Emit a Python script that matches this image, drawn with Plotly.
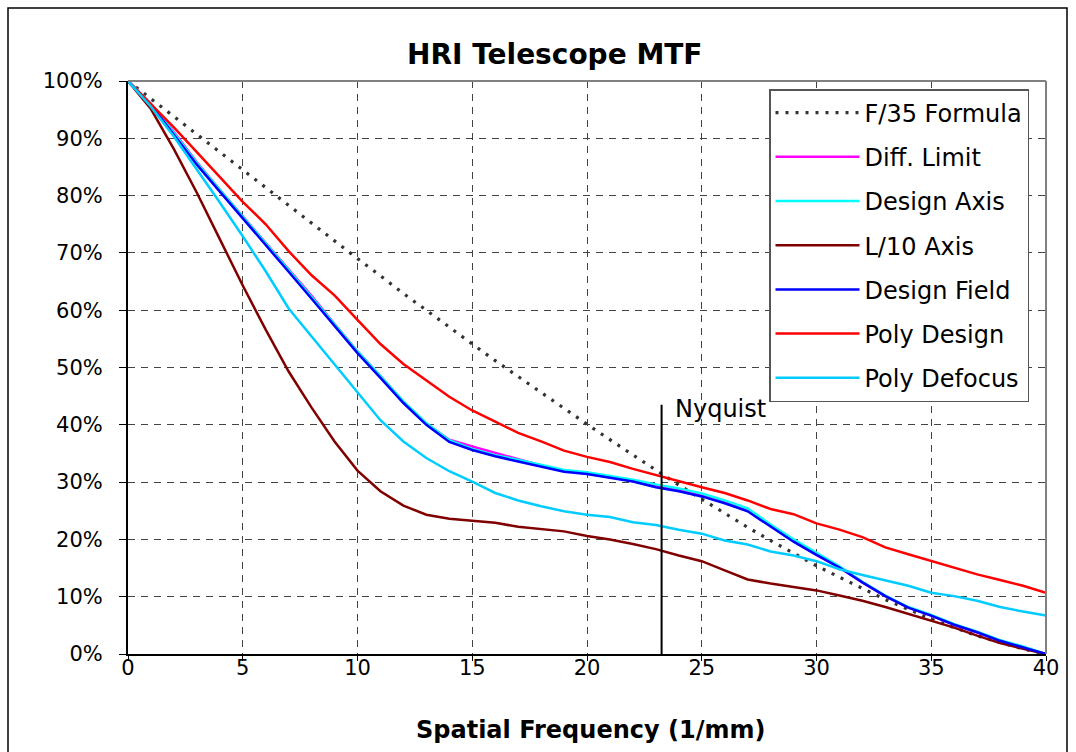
import plotly.graph_objects as go

# ---------------- data ----------------
freq = list(range(0, 41))

f35_formula = [100, 96.9, 93.7, 90.6, 87.5, 84.4, 81.3, 78.2, 75.1, 72.1,
               69.0, 66.0, 62.9, 60.0, 57.0, 54.1, 51.2, 48.4, 45.6, 42.8,
               40.1, 37.4, 34.7, 32.1, 29.5, 27.0, 24.5, 22.1, 19.8, 17.6,
               15.4, 13.4, 11.4, 9.5, 7.8, 6.1, 4.6, 3.2, 2.0, 0.9, 0]

diff_limit = [100, 96.0, 91.1, 85.8, 81.0, 76.4, 71.7, 67.0, 62.5, 57.6,
              52.8, 48.5, 44.0, 40.2, 37.4, 36.2, 35.1, 34.0, 32.9, 32.0,
              31.5, 30.9, 30.2, 29.4, 28.7, 27.7, 26.5, 25.0, 22.3, 19.7,
              17.3, 15.1, 12.5, 10.1, 8.1, 6.7, 5.1, 3.8, 2.3, 1.2, 0]

design_axis = [100, 96.0, 90.9, 85.7, 81.0, 76.4, 71.7, 67.0, 62.3, 57.5,
               52.8, 48.5, 44.1, 40.3, 37.3, 35.8, 34.7, 33.9, 33.0, 32.1,
               31.7, 31.1, 30.4, 29.6, 28.9, 28.0, 26.8, 25.4, 22.6, 20.0,
               17.6, 15.3, 12.6, 10.2, 8.2, 6.8, 5.2, 3.9, 2.4, 1.3, 0]

l10_axis = [100, 95.1, 88.1, 80.5, 72.4, 64.3, 56.6, 49.3, 43.0, 37.1,
            32.0, 28.4, 25.9, 24.3, 23.6, 23.3, 22.9, 22.2, 21.8, 21.4,
            20.6, 20.0, 19.2, 18.3, 17.2, 16.2, 14.6, 13.0, 12.3, 11.7,
            11.1, 10.2, 9.3, 8.2, 7.0, 5.9, 4.6, 3.2, 1.9, 0.9, 0]

design_field = [100, 95.8, 90.6, 85.4, 80.7, 76.1, 71.4, 66.7, 62.0, 57.2,
                52.5, 48.2, 43.8, 40.0, 37.0, 35.6, 34.5, 33.6, 32.7, 31.8,
                31.4, 30.8, 30.1, 29.1, 28.4, 27.5, 26.3, 24.9, 22.2, 19.6,
                17.3, 15.1, 12.5, 10.1, 8.1, 6.7, 5.1, 3.8, 2.3, 1.2, 0]

poly_design = [100, 96.0, 91.9, 87.6, 83.3, 78.9, 75.0, 70.3, 66.1, 62.6,
               58.3, 54.1, 50.6, 47.7, 44.9, 42.5, 40.5, 38.6, 37.1, 35.5,
               34.4, 33.5, 32.3, 31.2, 30.2, 29.1, 28.1, 26.8, 25.3, 24.4,
               22.8, 21.7, 20.4, 18.6, 17.4, 16.2, 15.1, 13.9, 12.9, 11.9, 10.7]

poly_defocus = [100, 95.5, 90.3, 84.6, 78.8, 72.9, 66.8, 60.3, 55.4, 50.4,
                45.6, 40.8, 37.1, 34.2, 31.9, 30.1, 28.1, 26.8, 25.8, 24.9,
                24.3, 23.9, 23.0, 22.5, 21.7, 21.0, 19.8, 19.1, 17.9, 17.2,
                16.2, 14.8, 13.8, 12.9, 11.9, 10.7, 10.1, 9.3, 8.2, 7.4, 6.7]

nyquist_freq = 23.25
nyquist_top = 43.5

x_ticks = [0, 5, 10, 15, 20, 25, 30, 35, 40]
y_ticks = [0, 10, 20, 30, 40, 50, 60, 70, 80, 90, 100]
y_tick_text = [f"{v}%" for v in y_ticks]

series = [
    ("F/35 Formula", f35_formula, "#333333", "3px,7px"),
    ("Diff. Limit", diff_limit, "#FF00FF", "solid"),
    ("Design Axis", design_axis, "#00FFFF", "solid"),
    ("L/10 Axis", l10_axis, "#800000", "solid"),
    ("Design Field", design_field, "#0000FF", "solid"),
    ("Poly Design", poly_design, "#FF0000", "solid"),
    ("Poly Defocus", poly_defocus, "#00CCFF", "solid"),
]

FONT = "DejaVu Sans, Liberation Sans, Arial, sans-serif"

fig = go.Figure()
for i, (name, vals, color, dash) in enumerate(series):
    fig.add_trace(go.Scatter(
        x=freq, y=vals, name=name, mode="lines",
        line=dict(color=color, width=2.5 if dash == "solid" else 3.2, dash=dash),
        legendgroup=f"g{i}",
    ))

W, H = 1076, 752
L, R, T, B = 128, 1046, 81, 654
pw, ph = R - L, B - T


def px(xp):
    return (xp - L) / pw


def py(yp):
    return (B - yp) / ph


grid = dict(showgrid=True, gridcolor="#444444", gridwidth=1, griddash="7px,6px")

fig.update_layout(
    width=W, height=H,
    margin=dict(l=L, r=W - R, t=T, b=H - B),
    plot_bgcolor="white", paper_bgcolor="white",
    font=dict(family=FONT, size=21, color="black"),
    showlegend=True,
    legend=dict(
        x=px(769), y=py(89), xanchor="left", yanchor="top",
        bgcolor="white", bordercolor="#555555", borderwidth=1.5,
        font=dict(family=FONT, size=24, color="black"),
        itemwidth=84, tracegroupgap=10, traceorder="grouped",
    ),
    xaxis=dict(range=[0, 40], tickvals=x_ticks, ticks="outside", ticklen=5,
               tickcolor="black", showline=True, linecolor="black", linewidth=2,
               zeroline=False, tickfont=dict(family=FONT, size=21),
               ticklabelstandoff=-11, **grid),
    yaxis=dict(range=[0, 100], tickvals=y_ticks, ticktext=y_tick_text,
               ticks="outside", ticklen=7, tickcolor="black", showline=True,
               linecolor="black", linewidth=2, zeroline=False,
               tickfont=dict(family=FONT, size=21),
               ticklabelstandoff=12, **grid),
)

# plot-area top / right borders (grey) and outer chart frame
fig.add_shape(type="line", xref="paper", yref="paper", x0=0, x1=1, y0=1, y1=1,
              line=dict(color="#808080", width=2))
fig.add_shape(type="line", xref="paper", yref="paper", x0=1, x1=1, y0=0, y1=1,
              line=dict(color="#808080", width=2))
fig.add_shape(type="rect", xref="paper", yref="paper",
              x0=px(8), x1=px(1067), y0=py(765), y1=py(8),
              line=dict(color="black", width=1.5), layer="below")

# Nyquist marker
fig.add_shape(type="line", xref="x", yref="y", x0=nyquist_freq, x1=nyquist_freq,
              y0=0, y1=nyquist_top, line=dict(color="black", width=2))
fig.add_annotation(x=nyquist_freq, y=nyquist_top, xref="x", yref="y",
                   text="Nyquist", showarrow=False, xanchor="left", yanchor="middle",
                   xshift=11, yshift=-4, font=dict(family=FONT, size=24, color="black"))

# titles
fig.add_annotation(x=px(555), y=py(55), xref="paper", yref="paper",
                   text="<b>HRI Telescope MTF</b>", showarrow=False,
                   xanchor="center", yanchor="middle",
                   font=dict(family=FONT, size=28, color="black"))
fig.add_annotation(x=px(590), y=py(730), xref="paper", yref="paper",
                   text="<b>Spatial Frequency (1/mm)</b>", showarrow=False,
                   xanchor="center", yanchor="middle",
                   font=dict(family=FONT, size=24, color="black"))

fig.write_html("out.html")
